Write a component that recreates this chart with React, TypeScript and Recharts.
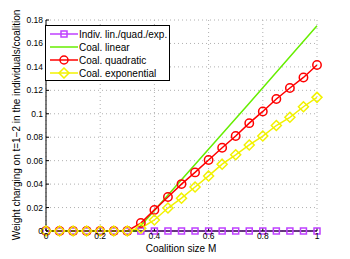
import React from 'react'
import { LineChart, Line, XAxis, YAxis, CartesianGrid } from 'recharts'

// coalition size M
const sizes = [0, 0.05, 0.1, 0.15, 0.2, 0.25, 0.3, 0.35, 0.4, 0.45, 0.5, 0.55, 0.6, 0.65, 0.7, 0.75, 0.8, 0.85, 0.9, 0.95, 1]
const indiv = [0, 0, 0, 0, 0, 0, 0, 0, 0, 0, 0, 0, 0, 0, 0, 0, 0, 0, 0, 0, 0]
const quadratic = [0, 0, 0, 0, 0, 0, 0, 0.0068, 0.018, 0.029, 0.040, 0.050, 0.0606, 0.071, 0.081, 0.092, 0.102, 0.1126, 0.122, 0.131, 0.1416]
const exponential = [0, 0, 0, 0, 0, 0, 0, 0.0024, 0.0094, 0.0196, 0.028, 0.0375, 0.047, 0.057, 0.065, 0.0734, 0.081, 0.090, 0.097, 0.106, 0.114]
// linear is drawn without markers, from its kink point
const linearX = [0, 0.333, 0.5, 0.75, 1]
const linearY = [0, 0, 0.0438, 0.109, 0.175]

const xTicks = [0, 0.2, 0.4, 0.6, 0.8, 1]
const yTicks = [0, 0.02, 0.04, 0.06, 0.08, 0.1, 0.12, 0.14, 0.16, 0.18]

const C_INDIV = '#bf40ff'
const C_LIN = '#66ee00'
const C_QUAD = '#ff0000'
const C_EXP = '#f2f200'
const FONT = '"Liberation Sans", Arial, Helvetica, sans-serif'

const data = sizes.map((x, i) => ({ x, indiv: indiv[i], quad: quadratic[i], exp: exponential[i] }))
const linData = linearX.map((x, i) => ({ x, lin: linearY[i] }))

const Square = (p: any) => (
  <rect key={p.index} x={p.cx - 3} y={p.cy - 3} width={6} height={6} fill="none" stroke={C_INDIV} strokeWidth={1.5} />
)
const Circ = (p: any) => (
  <circle key={p.index} cx={p.cx} cy={p.cy} r={4.2} fill="none" stroke={C_QUAD} strokeWidth={1.5} />
)
const Diamond = (p: any) => (
  <polygon key={p.index} points={`${p.cx},${p.cy - 5} ${p.cx + 5},${p.cy} ${p.cx},${p.cy + 5} ${p.cx - 5},${p.cy}`} fill="none" stroke={C_EXP} strokeWidth={1.5} />
)

const legendItems = [
  { name: 'Indiv. lin./quad./exp.', color: C_INDIV, mark: 'sq' },
  { name: 'Coal. linear', color: C_LIN, mark: '' },
  { name: 'Coal. quadratic', color: C_QUAD, mark: 'ci' },
  { name: 'Coal. exponential', color: C_EXP, mark: 'di' },
]

function LegendBox() {
  return (
    <div style={{ position: 'absolute', left: 45, top: 25, background: '#fff', border: '1px solid #000', width: 125, height: 56, boxSizing: 'border-box', padding: '1.5px 0 0 4px', fontFamily: FONT, fontSize: 10, color: '#000' }}>
      {legendItems.map(it => (
        <div key={it.name} style={{ display: 'flex', alignItems: 'center', height: 13 }}>
          <svg width={28} height={12} style={{ marginRight: 1 }}>
            <line x1={0} y1={6} x2={28} y2={6} stroke={it.color} strokeWidth={1.5} />
            {it.mark === 'sq' && <rect x={11} y={3} width={6} height={6} fill="none" stroke={it.color} strokeWidth={1.5} />}
            {it.mark === 'ci' && <circle cx={14} cy={6} r={4} fill="none" stroke={it.color} strokeWidth={1.5} />}
            {it.mark === 'di' && <polygon points="14,1 19,6 14,11 9,6" fill="none" stroke={it.color} strokeWidth={1.5} />}
          </svg>
          <span style={{ whiteSpace: 'nowrap' }}>{it.name}</span>
        </div>
      ))}
    </div>
  )
}

export default function App() {
  return (
    <div style={{ position: 'absolute', left: 0, top: 0, width: 350, height: 259, background: '#fff' }}>
      <LineChart width={350} height={259} data={data} margin={{ top: 20, right: 33, left: 0, bottom: 0 }}>
        <CartesianGrid stroke="#b0b0b0" strokeDasharray="1 3" />
        <XAxis dataKey="x" type="number" domain={[0, 1]} ticks={xTicks} height={28} tickSize={-3} tickMargin={5}
          axisLine={{ stroke: '#000' }} tickLine={{ stroke: '#000' }}
          tick={{ fontSize: 8.5, fill: '#000', fontFamily: FONT }} />
        <YAxis type="number" domain={[0, 0.18]} ticks={yTicks} width={46} tickSize={-3} tickMargin={6}
          axisLine={{ stroke: '#000' }} tickLine={{ stroke: '#000' }}
          tick={{ fontSize: 8.5, fill: '#000', fontFamily: FONT }} />
        <Line dataKey="indiv" stroke={C_INDIV} strokeWidth={1.5} dot={Square} isAnimationActive={false} />
        <Line data={linData} dataKey="lin" stroke={C_LIN} strokeWidth={1.5} dot={false} isAnimationActive={false} />
        <Line dataKey="quad" stroke={C_QUAD} strokeWidth={1.5} dot={Circ} isAnimationActive={false} />
        <Line dataKey="exp" stroke={C_EXP} strokeWidth={1.5} dot={Diamond} isAnimationActive={false} />
      </LineChart>
      <svg width={350} height={259} style={{ position: 'absolute', left: 0, top: 0, pointerEvents: 'none' }}>
        <text transform="translate(19.5,125) rotate(-90)" textAnchor="middle" fontFamily={FONT} fontSize={10} fill="#000">
          Weight charging on t=1−2 in the individuals/coalition
        </text>
        <text x={181} y={252} textAnchor="middle" fontFamily={FONT} fontSize={10} fill="#000">
          Coalition size M
        </text>
      </svg>
      <LegendBox />
    </div>
  )
}
